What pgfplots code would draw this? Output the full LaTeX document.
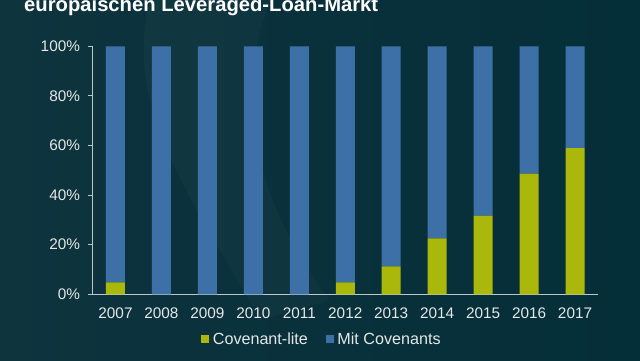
\documentclass[border=0pt]{standalone}
\usepackage{pgfplots}
\pgfplotsset{compat=1.18}
\usepackage{fontspec}
\setmainfont{Liberation Sans}
\definecolor{bgL}{RGB}{14,52,62}
\definecolor{bgR}{RGB}{4,46,56}
\definecolor{covlite}{RGB}{169,184,10}
\definecolor{mitcov}{RGB}{61,112,166}
\definecolor{txt}{RGB}{230,232,232}
\definecolor{axl}{RGB}{190,198,200}
\begin{document}
\begin{tikzpicture}[x=1bp,y=1bp]
\useasboundingbox (0,0) rectangle (640,360);
\clip (0,0) rectangle (640,360);
\shade[left color=bgL, right color=bgR] (0,0) rectangle (640,360);
\fill[white,opacity=0.025] (150,360) .. controls (120,250) and (200,150) .. (260,40) -- (330,60) .. controls (260,150) and (230,260) .. (270,360) -- cycle;
\node[anchor=base west, text=white, inner sep=0pt, font=\fontsize{20.3}{24}\selectfont\bfseries] at (24,348.5) {europäischen Leveraged-Loan-Markt};
\begin{axis}[
  at={(92.5bp,65.7bp)}, anchor=south west,
  scale only axis, width=505.5bp, height=248bp,
  ybar stacked, bar width=19bp,
  xmin=-0.5, xmax=10.5, ymin=0, ymax=100,
  xtick={0,...,10},
  xticklabels={2007,2008,2009,2010,2011,2012,2013,2014,2015,2016,2017},
  minor xtick={-0.5,0.5,...,10.5},
  ytick={0,20,...,100},
  yticklabel={\pgfmathprintnumber{\tick}\%},
  /pgf/number format/assume math mode=true,
  axis x line*=bottom, axis y line*=left,
  axis line style={axl, line width=0.8bp, -},
  tick align=outside,
  major tick length=5bp, minor tick length=5bp,
  xtick style={draw=none},
  minor x tick style={axl, line width=0.8bp},
  ytick style={axl, line width=0.8bp},
  tick label style={text=txt, font=\fontsize{15.4}{18}\selectfont},
  yticklabel style={xshift=-4bp},
  xticklabel style={yshift=-4.5bp},
  legend columns=2,
  legend style={at={(0.454,-0.182)}, anchor=center, draw=none, fill=none,
    text=txt, font=\fontsize{16.2}{18}\selectfont,
    /tikz/every even column/.append style={column sep=16bp},
    legend cell align=left},
  legend image code/.code={\path (0bp,0bp) -- (9.5bp,0bp);\fill[#1,/tikz/.cd,draw=none] (0bp,-4bp) rectangle (8bp,4bp);},
]
\addplot[fill=covlite, draw=none] coordinates {(0,4.8) (1,0) (2,0) (3,0) (4,0) (5,4.8) (6,11.3) (7,22.6) (8,31.7) (9,48.7) (10,58.9)};
\addplot[fill=mitcov, draw=none] coordinates {(0,95.2) (1,100) (2,100) (3,100) (4,100) (5,95.2) (6,88.7) (7,77.4) (8,68.3) (9,51.3) (10,41.1)};
\legend{Covenant-lite, Mit Covenants}
\end{axis}
\end{tikzpicture}
\end{document}
